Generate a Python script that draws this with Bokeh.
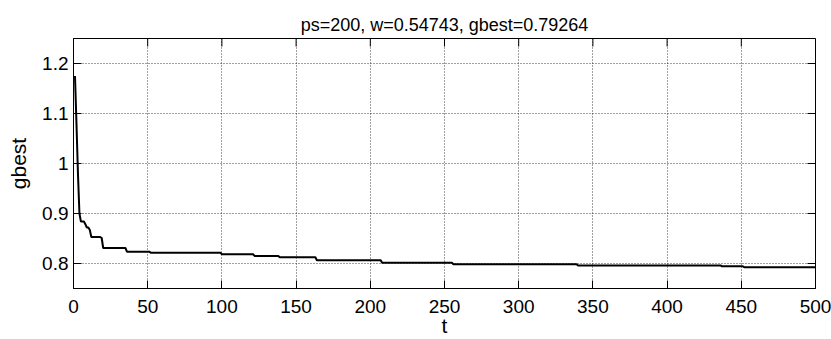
import numpy as np
from bokeh.plotting import figure
from bokeh.models import Range1d, FixedTicker, ColumnDataSource
from bokeh.embed import file_html
from bokeh.resources import INLINE

# Best-so-far fitness: iteration at which gbest improved, and the new value
change_iter = [1, 2, 3, 4, 5, 8, 9, 11, 12, 19, 20, 36, 52, 100, 122, 139,
               164, 208, 256, 340, 437, 452]
change_val = [1.175, 1.08, 0.98, 0.90, 0.884, 0.8785, 0.872, 0.867, 0.853,
              0.851, 0.831, 0.8237, 0.8217, 0.8184, 0.8152, 0.8125, 0.8066,
              0.8013, 0.7987, 0.7962, 0.7943, 0.79264]
n_iter = 500

x_ticks = [0, 50, 100, 150, 200, 250, 300, 350, 400, 450, 500]
y_ticks = [0.8, 0.9, 1.0, 1.1, 1.2]
y_tick_labels = ["0.8", "0.9", "1", "1.1", "1.2"]
x_lim = (0, 500)
y_lim = (0.75, 1.25)

title_text = "ps=200, w=0.54743, gbest=0.79264"

# gbest holds its value between improvements
iters = np.arange(1, n_iter + 1)
ends = change_iter[1:] + [n_iter + 1]
gbest = np.concatenate([np.full(e - s, v) for s, e, v in zip(change_iter, ends, change_val)])
src = ColumnDataSource(dict(t=iters, gbest=gbest))

FONT = "Liberation Sans"

p = figure(width=831, height=339, output_backend="svg", toolbar_location=None,
           x_range=Range1d(*x_lim), y_range=Range1d(*y_lim),
           min_border_left=73, min_border_right=16, min_border_top=38,
           min_border_bottom=48, background_fill_color="white",
           border_fill_color="white")

p.title.text = title_text
p.title.align = "center"
p.title.text_font = FONT
p.title.text_font_size = "18px"
p.title.text_font_style = "normal"
p.title.text_color = "black"
p.title.standoff = 8

p.line("t", "gbest", source=src, line_color="black", line_width=2)

p.outline_line_color = "black"
p.outline_line_width = 1

for ax in p.xaxis + p.yaxis:
    ax.major_tick_in = 8
    ax.major_tick_out = 0
    ax.minor_tick_in = 0
    ax.minor_tick_out = 0
    ax.axis_line_color = "black"
    ax.major_tick_line_color = "black"
    ax.major_label_text_font = FONT
    ax.major_label_text_font_size = "19px"
    ax.major_label_text_color = "black"
    ax.axis_label_text_font = FONT
    ax.axis_label_text_font_size = "21px"
    ax.axis_label_text_font_style = "normal"
    ax.axis_label_text_color = "black"

p.xaxis.ticker = FixedTicker(ticks=x_ticks)
p.yaxis.ticker = FixedTicker(ticks=y_ticks)
p.yaxis.major_label_overrides = {v: s for v, s in zip(y_ticks, y_tick_labels)}
p.xaxis.axis_label = "t"
p.yaxis.axis_label = "gbest"
p.xaxis.major_label_standoff = 11
p.yaxis.major_label_standoff = 5
p.xaxis.axis_label_standoff = -2
p.yaxis.axis_label_standoff = 9

# Box ticks along the top and right edges (half of each dash is clipped by the frame)
p.scatter(x=x_ticks, y=[y_lim[1]] * len(x_ticks), marker="dash", size=16,
          angle=np.pi / 2, line_color="black", line_width=1)
p.scatter(x=[x_lim[1]] * len(y_ticks), y=y_ticks, marker="dash", size=16,
          line_color="black", line_width=1)

p.xgrid.ticker = FixedTicker(ticks=x_ticks)
p.ygrid.ticker = FixedTicker(ticks=y_ticks)
for g in p.xgrid + p.ygrid:
    g.grid_line_color = "black"
    g.grid_line_alpha = 0.75
    g.grid_line_dash = "1 2"
    g.grid_line_width = 1

open("out.html", "w").write(file_html(p, INLINE))
